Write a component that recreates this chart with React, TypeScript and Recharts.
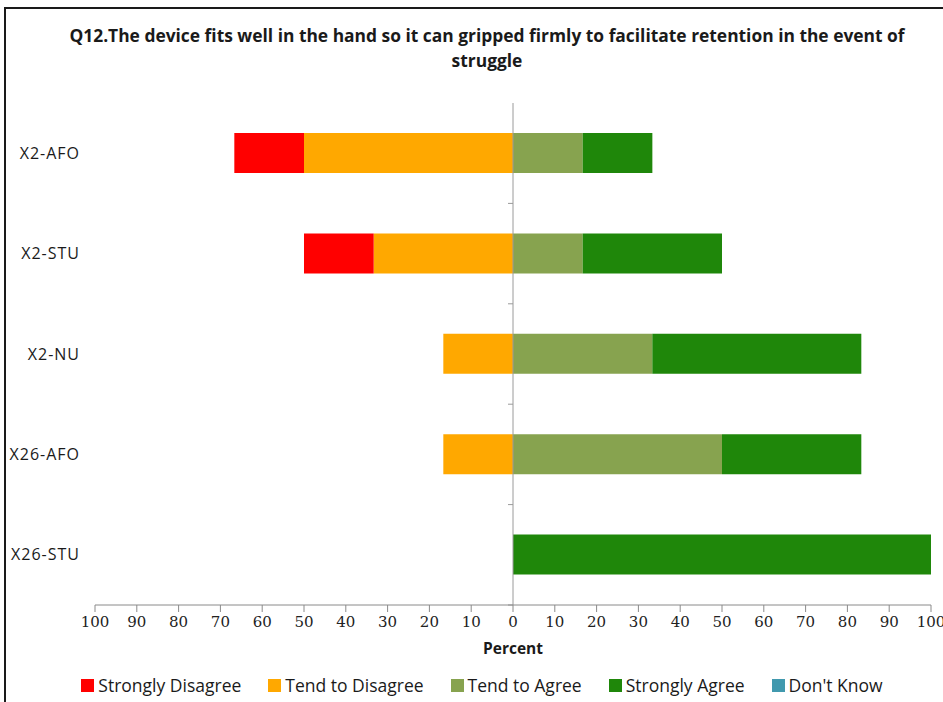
import { BarChart, Bar, XAxis, YAxis, ReferenceLine } from "recharts";

const categories = ["X2-AFO", "X2-STU", "X2-NU", "X26-AFO", "X26-STU"];
const stronglyDisagree = [-16.67, -16.67, 0, 0, 0];
const tendToDisagree = [-50, -33.33, -16.67, -16.67, 0];
const tendToAgree = [16.67, 16.67, 33.33, 50, 0];
const stronglyAgree = [16.67, 33.33, 50, 33.33, 100];
const dontKnow = [0, 0, 0, 0, 0];
const xTicks = [-100, -90, -80, -70, -60, -50, -40, -30, -20, -10, 0, 10, 20, 30, 40, 50, 60, 70, 80, 90, 100];

const series = [
  { key: "sd", name: "Strongly Disagree", color: "#ff0000", values: stronglyDisagree },
  { key: "td", name: "Tend to Disagree", color: "#ffa800", values: tendToDisagree },
  { key: "ta", name: "Tend to Agree", color: "#87a34f", values: tendToAgree },
  { key: "sa", name: "Strongly Agree", color: "#1f870a", values: stronglyAgree },
  { key: "dk", name: "Don't Know", color: "#4199ae", values: dontKnow },
];

// negatives stack outward in bar order, so tend-to-disagree goes first
const stackOrder = ["td", "sd", "ta", "sa", "dk"];

const data = categories.map((c, i) => {
  const row: any = { cat: c };
  series.forEach((s) => (row[s.key] = s.values[i]));
  return row;
});

const sans = "'Open Sans', 'Noto Sans', sans-serif";

function ZeroAxis(props: any) {
  const { x1, y1, y2 } = props;
  const step = (y2 - y1) / categories.length;
  const ticks = categories.map((_, i) => y1 + i * step);
  return (
    <g>
      <line x1={x1} x2={x1} y1={y1} y2={y2} stroke="#9a9a9a" strokeWidth={1} />
      {ticks.map((y, i) => (
        <line key={i} x1={x1 - 5} x2={x1} y1={y} y2={y} stroke="#9a9a9a" strokeWidth={1} />
      ))}
    </g>
  );
}

export default function App() {
  return (
    <div style={{ position: "absolute", left: 0, top: 0, width: 943, height: 702, overflow: "hidden", background: "#fff" }}>
      <div style={{ position: "absolute", left: 4, top: 7, width: 1000, height: 800, borderLeft: "2px solid #1a1a1a", borderTop: "2px solid #1a1a1a" }} />
      <div
        style={{
          position: "absolute",
          left: 20,
          width: 934,
          top: 23,
          textAlign: "center",
          fontFamily: sans,
          fontWeight: 700,
          fontSize: 17.4,
          lineHeight: "25px",
          color: "#1a1a1a",
          whiteSpace: "nowrap",
        }}
      >
        Q12.The device fits well in the hand so it can gripped firmly to facilitate retention in the event of
        <br />
        struggle
      </div>
      <div style={{ position: "absolute", left: 0, top: 0 }}>
        <BarChart
          width={943}
          height={702}
          data={data}
          layout="vertical"
          stackOffset="sign"
          barSize={40}
          margin={{ top: 103, right: 12, bottom: 0, left: 0 }}
        >
          <XAxis
            type="number"
            domain={[-100, 100]}
            ticks={xTicks}
            interval={0}
            tickFormatter={(v: number) => String(Math.abs(v))}
            height={97}
            tickSize={7}
            tickMargin={4}
            axisLine={{ stroke: "#8a8a8a" }}
            tickLine={{ stroke: "#8a8a8a" }}
            tick={{ fontFamily: "'DejaVu Serif', serif", fontSize: 15, fill: "#222" }}
            label={{
              value: "Percent",
              position: "insideTop",
              offset: 38,
              style: { fontFamily: sans, fontWeight: 700, fontSize: 15.5, fill: "#1a1a1a" },
            }}
          />
          <YAxis
            type="category"
            dataKey="cat"
            width={95}
            axisLine={false}
            tickLine={false}
            tickSize={0}
            tickMargin={15}
            tick={{ fontFamily: sans, fontSize: 16, fill: "#1a1a1a", letterSpacing: 1 }}
          />
          {stackOrder.map((k) => {
            const s = series.find((x) => x.key === k)!;
            return (
              <Bar key={k} dataKey={k} name={s.name} stackId="a" fill={s.color} isAnimationActive={false} />
            );
          })}
          <ReferenceLine x={0} shape={(p: any) => <ZeroAxis {...p} />} />
        </BarChart>
      </div>
      <div
        style={{
          position: "absolute",
          left: 0,
          width: 964,
          top: 673,
          display: "flex",
          justifyContent: "center",
          gap: 27,
          fontFamily: sans,
          fontSize: 17.5,
          color: "#1a1a1a",
          whiteSpace: "nowrap",
        }}
      >
        {series.map((s) => (
          <div key={s.key} style={{ display: "flex", alignItems: "center", gap: 4 }}>
            <span style={{ display: "inline-block", width: 13, height: 13, background: s.color }} />
            <span>{s.name}</span>
          </div>
        ))}
      </div>
    </div>
  );
}
